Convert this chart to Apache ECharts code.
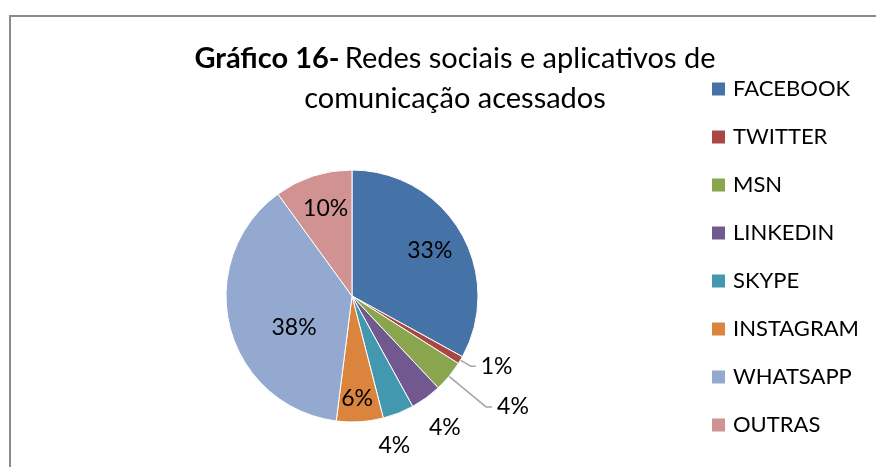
<!DOCTYPE html>
<html>
<head>
<meta charset="utf-8">
<script src="https://cdn.jsdelivr.net/npm/echarts@6/dist/echarts.min.js"></script>
<style>
  html, body { margin: 0; padding: 0; background: #fff; }
  #chart { width: 876px; height: 467px; }
</style>
</head>
<body>
<div id="chart"></div>
<script>
// valores (%)
const categories = ['FACEBOOK', 'TWITTER', 'MSN', 'LINKEDIN', 'SKYPE', 'INSTAGRAM', 'WHATSAPP', 'OUTRAS']
const values = [33, 1, 4, 4, 4, 6, 38, 10]
const colors = ['#4572A7', '#AA4643', '#89A54E', '#71588F', '#4198AF', '#DB843D', '#93A9CF', '#D19392']

// how each label is placed (Excel style: some inside, some outside)
const labelPlace = [
  { position: 'inside', offset: [21, -12] },
  { position: 'outside', line: true, length: 12, length2: 5 },
  { position: 'outside', line: true, length: 48, length2: 6 },
  { position: 'inside', offset: [54, 78] },
  { position: 'inside', offset: [18, 88] },
  { position: 'inside', offset: [1, 37] },
  { position: 'inside', offset: [6, 15] },
  { position: 'inside', offset: [-6, -25] },
]

const FONT = 'Lato, "Open Sans", sans-serif'

const chart = echarts.init(document.getElementById('chart'), null, { renderer: 'canvas' })

const seriesData = categories.map((name, i) => {
  const p = labelPlace[i]
  const item = {
    name: name,
    value: values[i],
    itemStyle: { color: colors[i] },
    label: { position: p.position },
    labelLine: { show: !!p.line },
  }
  if (p.offset) item.label.offset = p.offset
  if (p.line) {
    item.labelLine.length = p.length
    item.labelLine.length2 = p.length2
  }
  return item
})

const option = {
  backgroundColor: '#fff',
  animation: false,
  graphic: [
    {
      type: 'rect',
      shape: { x: 10, y: 16, width: 900, height: 500 },
      style: { fill: 'none', stroke: '#8c8c8c', lineWidth: 2 },
      silent: true,
    },
  ],
  title: {
    text: '{b|Gráfico 16-} {n|Redes sociais e aplicativos de}\n{n|comunicação acessados}',
    left: 450,
    top: 34,
    textAlign: 'center',
    textStyle: {
      fontWeight: 'normal',
      rich: {
        b: { fontFamily: FONT, fontSize: 29, fontWeight: 'bold', color: '#000', lineHeight: 40 },
        n: { fontFamily: FONT, fontSize: 29, fontWeight: 'normal', color: '#000', lineHeight: 40 },
      },
    },
  },
  legend: {
    orient: 'vertical',
    left: 705,
    top: 73,
    icon: 'rect',
    itemWidth: 15,
    itemHeight: 15,
    itemGap: 26,
    data: categories,
    textStyle: {
      fontFamily: FONT,
      fontSize: 22,
      color: '#000',
      lineHeight: 22,
      padding: [0, 0, 0, 2],
    },
  },
  series: [
    {
      type: 'pie',
      center: [352, 296],
      radius: 126,
      startAngle: 90,
      clockwise: true,
      avoidLabelOverlap: false,
      itemStyle: { borderColor: '#fff', borderWidth: 1 },
      label: {
        formatter: '{c}%',
        fontFamily: FONT,
        fontSize: 23,
        color: '#000',
      },
      labelLine: {
        lineStyle: { color: '#a6a6a6', width: 1.5 },
      },
      emphasis: { disabled: true },
      data: seriesData,
    },
  ],
}

chart.setOption(option)
</script>
</body>
</html>
